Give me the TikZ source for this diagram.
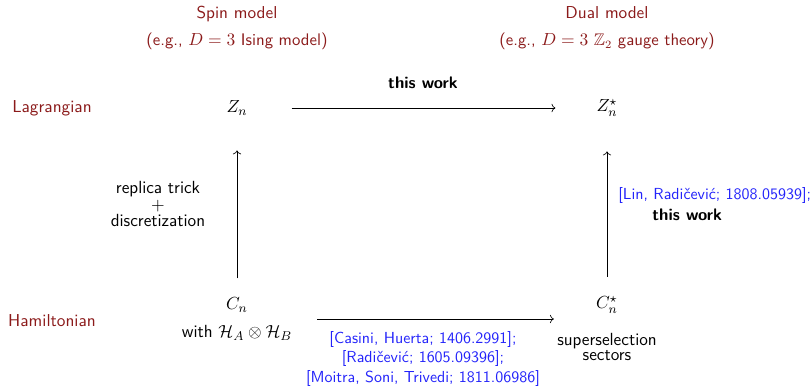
\documentclass[tikz,border=0pt]{standalone}
\usepackage{amsmath,amssymb}
\usepackage{xcolor}
\usepackage{tikz}
\usetikzlibrary{arrows.meta,calc}

\definecolor{darkred}{RGB}{139,26,26}
\definecolor{refblue}{RGB}{35,35,250}

\begin{document}
\begin{tikzpicture}[x=0.022cm, y=-0.022cm,
    head/.style={font=\sffamily\fontsize{10.8}{12}\selectfont, text=darkred, align=center},
    obj/.style={font=\sffamily\fontsize{11}{13}\selectfont, align=center, inner sep=3pt},
    note/.style={font=\sffamily\fontsize{11}{10.3}\selectfont, align=center},
    cite/.style={font=\sffamily\fontsize{10}{12.2}\selectfont, text=refblue, align=center},
    arrow/.style={->, thin}
]
    \useasboundingbox (0,0) rectangle (810,387);

    % Column headings
    \node[head] (spin) at (237, 28) {Spin model\\[5pt]\fontsize{10.5}{12}\selectfont(e.g., $D=3$ Ising model)};
    \node[head] (dual) at (607, 28) {Dual model\\[5pt]\fontsize{10.5}{12}\selectfont(e.g., $D=3$ $\mathbb{Z}_2$ gauge theory)};

    % Row headings
    \node[head] (lag) at (52, 108) {Lagrangian};
    \node[head] (ham) at (52, 321) {Hamiltonian};

    % Objects
    \node[obj] (Zn) at (237, 108) {$Z_n$};
    \node[obj] (Zs) at (607, 108) {$Z_n^\star$};
    \node[obj] (Cn) at (237, 319) {$C_n$\\[4.5pt]with $\mathcal{H}_A\otimes\mathcal{H}_B$};
    \node[obj] (Cs) at (607, 305) {$C_n^\star$};
    \node[note, font=\sffamily\fontsize{11}{10}\selectfont] (sel) at (607, 347) {superselection\\sectors};

    % Arrows
    \draw[arrow, shorten <=0.86cm, shorten >=0.79cm] (Zn) -- (Zs);
    \draw[arrow, shorten <=0.31cm, shorten >=0.66cm] (Cn.north) -- (Zn.south);
    \draw[arrow, shorten <=0.33cm, shorten >=0.66cm] (Cs.north) -- (Zs.south);
    \draw[arrow, shorten <=0.44cm, shorten >=-0.05cm] (Cn.east) -- (Cn.east -| sel.west);

    % Arrow labels
    \node[obj, font=\sffamily\bfseries\fontsize{10.5}{12}\selectfont] (tw) at (423, 83) {this work};
    \node[note] (rep) at (158, 204) {replica trick\\$+$\\discretization};
    \node[cite] (refs) at (423, 359) {{[Casini, Huerta; 1406.2991];}\\{[Radičević; 1605.09396];}\\{[Moitra, Soni, Trivedi; 1811.06986]}};
    \node[obj, font=\sffamily\fontsize{10}{13.1}\selectfont, align=left, anchor=west, inner sep=0pt] (lin) at (618, 204)
        {\textcolor{refblue}{[Lin, Radičević; 1808.05939];}\\\hspace*{0.75cm}{\fontsize{10.5}{13.1}\selectfont\bfseries this work}};
\end{tikzpicture}
\end{document}
